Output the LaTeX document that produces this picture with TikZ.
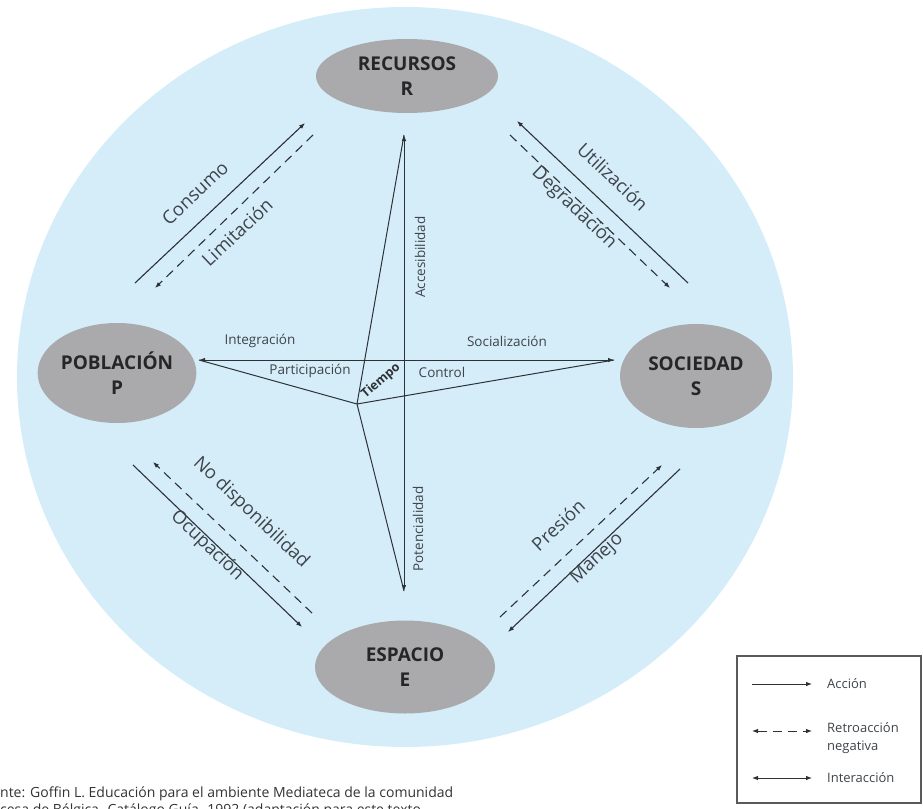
\documentclass[tikz,border=0pt]{standalone}
\usepackage{fontspec}
\setmainfont{Open Sans}
\usetikzlibrary{arrows.meta,shapes.geometric}
\definecolor{bgblue}{RGB}{213,237,249}
\definecolor{nodegray}{RGB}{170,170,172}
\definecolor{ink}{RGB}{45,50,55}
\definecolor{labelink}{RGB}{62,68,74}
\definecolor{boxgray}{RGB}{90,90,90}
\begin{document}
\begin{tikzpicture}[x=1pt,y=-1pt,
  tip/.tip={Latex[length=6pt,width=4.6pt]},
  title/.style={ellipse, fill=nodegray, inner sep=0pt, align=center,
    text=black!85, font=\bfseries\fontsize{19}{25}\selectfont},
  act/.style={draw=ink, line width=1.1pt, -tip},
  feed/.style={act, dash pattern=on 9pt off 6pt},
  both/.style={draw=ink, line width=1pt, tip-tip},
  spoke/.style={draw=ink, line width=1pt},
  lab/.style={text=labelink, inner sep=0pt, font=\fontsize{18.5}{20}\selectfont},
  small/.style={text=labelink, inner sep=0pt, font=\fontsize{13.5}{15}\selectfont},
  keytext/.style={text=labelink, inner sep=0pt, anchor=west, align=left,
    font=\fontsize{13}{18}\selectfont},
]
\useasboundingbox (0,0) rectangle (923,808);

% background disc
\fill[bgblue] (405,377) ellipse [x radius=388pt, y radius=370pt];

% the four poles
\node[title, minimum width=182pt, minimum height=74pt] (R) at (407,76) {RECURSOS\\R};
\node[title, minimum width=154pt, minimum height=100pt] (P) at (117,373) {POBLACIÓN\\P};
\node[title, minimum width=152pt, minimum height=104pt] (S) at (696,376) {SOCIEDAD\\S};
\node[title, minimum width=180pt, minimum height=93pt] (E) at (405,667) {ESPACIO\\E};

% central star: tips and the time point
\coordinate (rTip) at (404,135);
\coordinate (eTip) at (404,591);
\coordinate (pTip) at (199,360);
\coordinate (sTip) at (614,360);
\coordinate (T) at (357,404);

\draw[spoke] (T) -- (rTip);
\draw[spoke] (T) -- (eTip);
\draw[spoke] (T) -- (pTip);
\draw[spoke] (T) -- (sTip);
\draw[both] (pTip) -- (sTip);
\draw[both] (rTip) -- (eTip);

\node[small] (integ) at (260,341) {Integración};
\node[small] (socia) at (507,341) {Socialización};
\node[small] (parti) at (310,371) {Participación};
\node[small] (contr) at (442,372) {Control};
\node[small, font=\bfseries\fontsize{12.5}{14}\selectfont, text=ink, rotate=41] (tiempo) at (381,381) {Tiempo};
\node[small, rotate=90] (acces) at (420,257) {Accesibilidad};
\node[small, rotate=90] (poten) at (418,529) {Potencialidad};

% P -- R
\coordinate (ulA1) at (135,283); \coordinate (ulA2) at (305,123);
\coordinate (ulB1) at (313,135); \coordinate (ulB2) at (155,288);
\draw[act] (ulA1) -- (ulA2);
\draw[feed] (ulB1) -- (ulB2);
\node[lab, rotate=43.3] (consumo) at (195,193) {Consumo};
\node[lab, rotate=43.3] (limit) at (237,232) {Limitación};

% R -- S
\coordinate (urA1) at (688,283); \coordinate (urA2) at (517,121);
\coordinate (urB1) at (510,135); \coordinate (urB2) at (670,288);
\draw[act] (urA1) -- (urA2);
\draw[feed] (urB1) -- (urB2);
\node[lab, rotate=-43.5] (util) at (613,177) {Utilización};
\node[lab, rotate=-43.5] (degr) at (574,208) {Degradación};

% P -- E
\coordinate (llB1) at (312,613); \coordinate (llB2) at (153,462);
\coordinate (llA1) at (133,465); \coordinate (llA2) at (302,627);
\draw[feed] (llB1) -- (llB2);
\draw[act] (llA1) -- (llA2);
\node[lab, rotate=-43.5] (nodisp) at (251,513) {No disponibilidad};
\node[lab, rotate=-43.5] (ocup) at (207,546) {Ocupación};

% E -- S
\coordinate (lrB1) at (500,617); \coordinate (lrB2) at (662,465);
\coordinate (lrA1) at (680,469); \coordinate (lrA2) at (508,632);
\draw[feed] (lrB1) -- (lrB2);
\draw[act] (lrA1) -- (lrA2);
\node[lab, rotate=43] (presion) at (558,525) {Presión};
\node[lab, rotate=43] (manejo) at (597,559) {Manejo};

% key
\draw[boxgray, line width=1.4pt] (737,656) rectangle (921,803);
\coordinate (k1a) at (752,684); \coordinate (k1b) at (812,684);
\coordinate (k2a) at (752,731); \coordinate (k2b) at (812,731);
\coordinate (k3a) at (752,778); \coordinate (k3b) at (812,778);
\draw[act, line width=1pt] (k1a) -- (k1b);
\draw[both, dash pattern=on 9pt off 6pt] (k2a) -- (k2b);
\draw[both] (k3a) -- (k3b);
\node[keytext] (kacc) at (827,684) {Acción};
\node[keytext, anchor=north west] (kret) at (827,722) {Retroacción\\negativa};
\node[keytext] (kint) at (827,778) {Interacción};

% source note
\node[anchor=base west, inner sep=0pt, text=black!80, font=\fontsize{14}{16}\selectfont] (src1) at (0,797)
  {nte: Goffin L. Educación para el ambiente Mediateca de la comunidad};
\node[anchor=base west, inner sep=0pt, text=black!80, font=\fontsize{14}{16}\selectfont] (src2) at (0,814)
  {cesa de Bélgica. Catálogo Guía. 1992 (adaptación para este texto.};
\end{tikzpicture}
\end{document}
